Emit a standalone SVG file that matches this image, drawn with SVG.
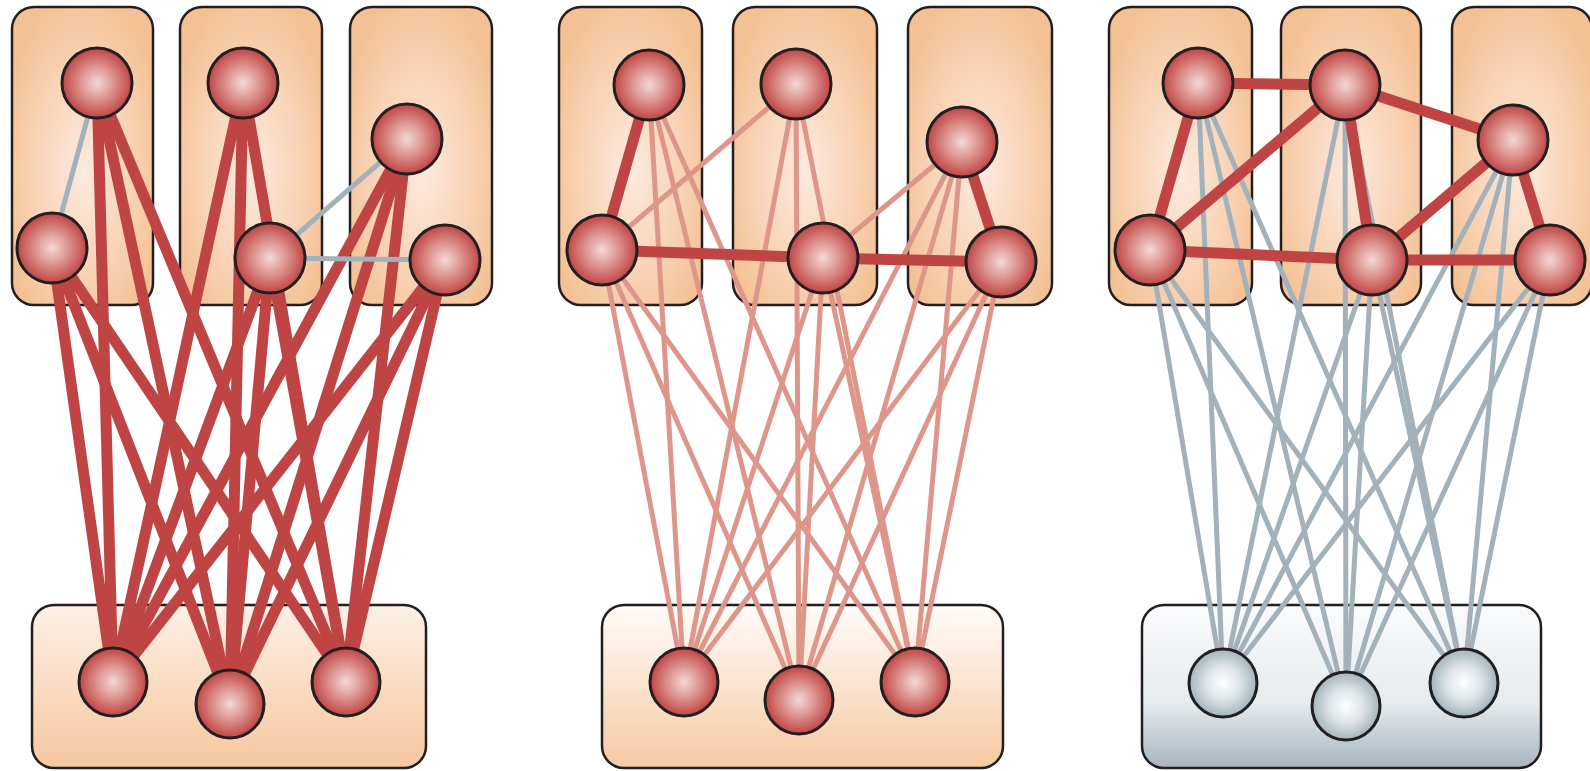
<svg xmlns="http://www.w3.org/2000/svg" width="1590" height="771" viewBox="0 0 1590 771">
<defs>
<radialGradient id="boxG" cx="0.5" cy="0.55" r="0.6">
<stop offset="0" stop-color="#FDEADF"/>
<stop offset="0.6" stop-color="#F8D2B4"/>
<stop offset="1" stop-color="#F4C194"/>
</radialGradient>
<linearGradient id="botO" x1="0" y1="0" x2="0" y2="1">
<stop offset="0" stop-color="#FDF0E6"/>
<stop offset="1" stop-color="#F6C79E"/>
</linearGradient>
<linearGradient id="botO2" x1="0" y1="0" x2="0" y2="1">
<stop offset="0" stop-color="#FFFCFA"/>
<stop offset="1" stop-color="#F6C9A2"/>
</linearGradient>
<linearGradient id="botG" x1="0" y1="0" x2="0" y2="1">
<stop offset="0" stop-color="#FAFBFC"/>
<stop offset="0.6" stop-color="#E6EBEE"/>
<stop offset="1" stop-color="#A7B5BE"/>
</linearGradient>
<radialGradient id="redN" cx="0.5" cy="0.5" r="0.5">
<stop offset="0" stop-color="#F3D8D6"/>
<stop offset="0.45" stop-color="#DF9792"/>
<stop offset="1" stop-color="#BE4545"/>
</radialGradient>
<radialGradient id="greyN" cx="0.5" cy="0.5" r="0.5">
<stop offset="0" stop-color="#FFFFFF"/>
<stop offset="0.5" stop-color="#DDE4E8"/>
<stop offset="1" stop-color="#A4B3BB"/>
</radialGradient>
</defs>
<style>
.box{stroke:#231F20;stroke-width:2.5}
.nd{stroke:#231F20;stroke-width:3}
.r{fill:url(#redN)}
.g{fill:url(#greyN)}
.thick{stroke:#BF4545;stroke-width:11;stroke-linecap:butt}
.grey{stroke:#A2B1BA;stroke-width:5}
.pink{stroke:#DE968A;stroke-width:5}
</style>
<rect width="1590" height="771" fill="#FFFFFF"/>

<g id="boxes">
<rect id="box1a" class="box" x="12" y="7" width="141" height="298" rx="22" fill="url(#boxG)"/>
<rect id="box1b" class="box" x="180" y="7" width="142" height="298" rx="22" fill="url(#boxG)"/>
<rect id="box1c" class="box" x="350" y="7" width="142" height="298" rx="22" fill="url(#boxG)"/>
<rect id="box1bot" class="box" x="32" y="605" width="394" height="163" rx="22" fill="url(#botO)"/>
<rect id="box2a" class="box" x="559" y="7" width="143" height="298" rx="22" fill="url(#boxG)"/>
<rect id="box2b" class="box" x="733" y="7" width="144" height="298" rx="22" fill="url(#boxG)"/>
<rect id="box2c" class="box" x="908" y="7" width="144" height="298" rx="22" fill="url(#boxG)"/>
<rect id="box2bot" class="box" x="602" y="605" width="401" height="163" rx="22" fill="url(#botO2)"/>
<rect id="box3a" class="box" x="1109" y="7" width="143" height="298" rx="22" fill="url(#boxG)"/>
<rect id="box3b" class="box" x="1281" y="7" width="140" height="298" rx="22" fill="url(#boxG)"/>
<rect id="box3c" class="box" x="1452" y="7" width="140" height="298" rx="22" fill="url(#boxG)"/>
<rect id="box3bot" class="box" x="1142" y="605" width="399" height="163" rx="22" fill="url(#botG)"/>
</g>

<g id="connectors">
<g class="thick">
<line x1="97" y1="83" x2="113" y2="682"/><line x1="97" y1="83" x2="230" y2="704"/><line x1="97" y1="83" x2="346" y2="682"/>
<line x1="52" y1="248" x2="113" y2="682"/><line x1="52" y1="248" x2="230" y2="704"/><line x1="52" y1="248" x2="346" y2="682"/>
<line x1="243" y1="83" x2="113" y2="682"/><line x1="243" y1="83" x2="230" y2="704"/><line x1="243" y1="83" x2="346" y2="682"/>
<line x1="270" y1="258" x2="113" y2="682"/><line x1="270" y1="258" x2="230" y2="704"/><line x1="270" y1="258" x2="346" y2="682"/>
<line x1="407" y1="139" x2="113" y2="682"/><line x1="407" y1="139" x2="230" y2="704"/><line x1="407" y1="139" x2="346" y2="682"/>
<line x1="445" y1="260" x2="113" y2="682"/><line x1="445" y1="260" x2="230" y2="704"/><line x1="445" y1="260" x2="346" y2="682"/>
</g>
<g class="grey">
<line x1="97" y1="83" x2="52" y2="248"/>
<line x1="270" y1="258" x2="407" y2="139"/>
<line x1="270" y1="258" x2="445" y2="260"/>
</g>
<g class="pink">
<line x1="649" y1="85" x2="684" y2="682"/><line x1="649" y1="85" x2="799" y2="700"/><line x1="649" y1="85" x2="915" y2="682"/>
<line x1="602" y1="250" x2="684" y2="682"/><line x1="602" y1="250" x2="799" y2="700"/><line x1="602" y1="250" x2="915" y2="682"/>
<line x1="796" y1="84" x2="684" y2="682"/><line x1="796" y1="84" x2="799" y2="700"/><line x1="796" y1="84" x2="915" y2="682"/>
<line x1="823" y1="258" x2="684" y2="682"/><line x1="823" y1="258" x2="799" y2="700"/><line x1="823" y1="258" x2="915" y2="682"/>
<line x1="962" y1="142" x2="684" y2="682"/><line x1="962" y1="142" x2="799" y2="700"/><line x1="962" y1="142" x2="915" y2="682"/>
<line x1="1001" y1="262" x2="684" y2="682"/><line x1="1001" y1="262" x2="799" y2="700"/><line x1="1001" y1="262" x2="915" y2="682"/>
<line x1="602" y1="250" x2="796" y2="84"/>
<line x1="823" y1="258" x2="962" y2="142"/>
</g>
<g class="thick">
<line x1="649" y1="85" x2="602" y2="250"/>
<line x1="602" y1="250" x2="823" y2="258"/>
<line x1="823" y1="258" x2="1001" y2="262"/>
<line x1="962" y1="142" x2="1001" y2="262"/>
</g>
<g class="grey">
<line x1="1198" y1="83" x2="1223" y2="683"/><line x1="1198" y1="83" x2="1346" y2="706"/><line x1="1198" y1="83" x2="1464" y2="683"/>
<line x1="1150" y1="250" x2="1223" y2="683"/><line x1="1150" y1="250" x2="1346" y2="706"/><line x1="1150" y1="250" x2="1464" y2="683"/>
<line x1="1345" y1="85" x2="1223" y2="683"/><line x1="1345" y1="85" x2="1346" y2="706"/><line x1="1345" y1="85" x2="1464" y2="683"/>
<line x1="1372" y1="260" x2="1223" y2="683"/><line x1="1372" y1="260" x2="1346" y2="706"/><line x1="1372" y1="260" x2="1464" y2="683"/>
<line x1="1513" y1="140" x2="1223" y2="683"/><line x1="1513" y1="140" x2="1346" y2="706"/><line x1="1513" y1="140" x2="1464" y2="683"/>
<line x1="1550" y1="260" x2="1223" y2="683"/><line x1="1550" y1="260" x2="1346" y2="706"/><line x1="1550" y1="260" x2="1464" y2="683"/>
</g>
<g class="thick">
<line x1="1198" y1="83" x2="1345" y2="85"/>
<line x1="1198" y1="83" x2="1150" y2="250"/>
<line x1="1150" y1="250" x2="1345" y2="85"/>
<line x1="1345" y1="85" x2="1513" y2="140"/>
<line x1="1345" y1="85" x2="1372" y2="260"/>
<line x1="1150" y1="250" x2="1372" y2="260"/>
<line x1="1372" y1="260" x2="1513" y2="140"/>
<line x1="1372" y1="260" x2="1550" y2="260"/>
<line x1="1513" y1="140" x2="1550" y2="260"/>
</g>
</g>

<g id="n1"><circle class="nd r" cx="97" cy="83" r="35"/></g>
<g id="n2"><circle class="nd r" cx="52" cy="248" r="35"/></g>
<g id="n3"><circle class="nd r" cx="243" cy="83" r="35"/></g>
<g id="n4"><circle class="nd r" cx="270" cy="258" r="35"/></g>
<g id="n5"><circle class="nd r" cx="407" cy="139" r="35"/></g>
<g id="n6"><circle class="nd r" cx="445" cy="260" r="35"/></g>
<g id="b1"><circle class="nd r" cx="113" cy="682" r="34"/></g>
<g id="b2"><circle class="nd r" cx="230" cy="704" r="34"/></g>
<g id="b3"><circle class="nd r" cx="346" cy="682" r="34"/></g>

<g id="m1"><circle class="nd r" cx="649" cy="85" r="35"/></g>
<g id="m2"><circle class="nd r" cx="602" cy="250" r="35"/></g>
<g id="m3"><circle class="nd r" cx="796" cy="84" r="35"/></g>
<g id="m4"><circle class="nd r" cx="823" cy="258" r="35"/></g>
<g id="m5"><circle class="nd r" cx="962" cy="142" r="35"/></g>
<g id="m6"><circle class="nd r" cx="1001" cy="262" r="35"/></g>
<g id="c1"><circle class="nd r" cx="684" cy="682" r="34"/></g>
<g id="c2"><circle class="nd r" cx="799" cy="700" r="34"/></g>
<g id="c3"><circle class="nd r" cx="915" cy="682" r="34"/></g>

<g id="p1"><circle class="nd r" cx="1198" cy="83" r="35"/></g>
<g id="p2"><circle class="nd r" cx="1150" cy="250" r="35"/></g>
<g id="p3"><circle class="nd r" cx="1345" cy="85" r="35"/></g>
<g id="p4"><circle class="nd r" cx="1372" cy="260" r="35"/></g>
<g id="p5"><circle class="nd r" cx="1513" cy="140" r="35"/></g>
<g id="p6"><circle class="nd r" cx="1550" cy="260" r="35"/></g>
<g id="d1"><circle class="nd g" cx="1223" cy="683" r="34"/></g>
<g id="d2"><circle class="nd g" cx="1346" cy="706" r="34"/></g>
<g id="d3"><circle class="nd g" cx="1464" cy="683" r="34"/></g>
</svg>
